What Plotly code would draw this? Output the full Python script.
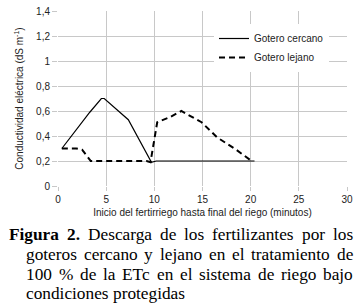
import plotly.graph_objects as go

near_x = [0.4, 3.3, 4.5, 4.8, 7.3, 9.7, 10.2, 20.4]
near_y = [0.30, 0.59, 0.70, 0.70, 0.53, 0.19, 0.20, 0.20]
far_x = [0.4, 1.9, 2.5, 3.4, 9.2, 9.6, 10.3, 11.6, 12.8, 14.9, 16.5, 18.5, 20.1]
far_y = [0.30, 0.30, 0.29, 0.20, 0.20, 0.19, 0.51, 0.55, 0.60, 0.51, 0.39, 0.29, 0.20]

x_ticks = [0, 5, 10, 15, 20, 25, 30]
y_ticks = [0, 0.2, 0.4, 0.6, 0.8, 1, 1.2, 1.4]

caption_lines = [
    "Figura 2. Descarga de los fertilizantes por los",
    "goteros cercano y lejano en el tratamiento de",
    "100 % de la ETc en el sistema de riego bajo",
    "condiciones protegidas",
]
bold_words = {"Figura", "2."}

W, H = 356, 305
ML, MR, MT, MB = 58, 9, 11, 119
PW, PH = W - ML - MR, H - MT - MB

# Times / Liberation Serif advance widths (1/1000 em) for justification
REG = dict(a=444, b=500, c=444, d=500, e=444, f=333, g=500, h=500, i=278, j=278, k=500,
           l=278, m=778, n=500, o=500, p=500, q=500, r=333, s=389, t=278, u=500, v=500,
           w=722, x=500, y=500, z=444, D=722, E=611, T=611, F=556)
REG.update({"0": 500, "1": 500, "2": 500, "%": 833, ".": 250, " ": 250})
BOLD = dict(F=611, i=278, g=500, u=556, r=444, a=500)
BOLD.update({"2": 500, ".": 250})
CAP_SIZE = 17.3


def word_w(w, bold):
    tbl = BOLD if bold else REG
    return sum(tbl.get(ch, 500) for ch in w) / 1000 * CAP_SIZE


fig = go.Figure()
fig.add_trace(go.Scatter(x=near_x, y=near_y, mode="lines", name="Gotero cercano",
                         line=dict(color="black", width=1.2)))
fig.add_trace(go.Scatter(x=far_x, y=far_y, mode="lines", name="Gotero lejano",
                         line=dict(color="black", width=2, dash="6px,4px")))

grid = "#c8c8c8"
axfont = dict(family="Liberation Sans, Arial", size=10, color="#222")
fig.update_layout(
    width=W, height=H,
    margin=dict(l=ML, r=MR, t=MT, b=MB, autoexpand=False),
    paper_bgcolor="white", plot_bgcolor="white",
    separators=",.",
    showlegend=True,
    legend=dict(x=(214 - ML) / PW, y=(MT + PH - 24) / PH, xanchor="left", yanchor="top",
                bgcolor="white", borderwidth=0,
                font=dict(family="Liberation Sans, Arial", size=10, color="#222"),
                tracegroupgap=0, itemwidth=30),
    xaxis=dict(range=[0, 30], tickvals=x_ticks, showgrid=True, gridcolor=grid, gridwidth=1,
               zeroline=False, showline=False, ticks="outside", ticklen=4, tickcolor=grid,
               tickfont=axfont, fixedrange=True,
               title=dict(text="Inicio del fertirriego hasta final del riego (minutos)",
                          font=axfont, standoff=4)),
    yaxis=dict(range=[0, 1.4], tickvals=y_ticks, showgrid=True, gridcolor=grid, gridwidth=1,
               zeroline=False, showline=False, ticks="outside", ticklen=5, tickcolor=grid,
               tickfont=axfont, fixedrange=True,
               title=dict(text="Conductividad eléctrica (dS m<sup>-1</sup>)",
                          font=axfont, standoff=10)),
)

cap_font = dict(family="Liberation Serif, Times New Roman", size=CAP_SIZE, color="#000")
line_left = [8, 25, 25, 25]
line_right = 352
line_y = [234, 254, 274, 293]
justify = [True, True, True, False]
for txt, x0, yy, jus in zip(caption_lines, line_left, line_y, justify):
    words = txt.split(" ")
    widths = [word_w(w, w in bold_words) for w in words]
    if jus and len(words) > 1:
        gap = (line_right - x0 - sum(widths)) / (len(words) - 1)
    else:
        gap = 250 / 1000 * CAP_SIZE
    xx = x0
    for w, wd in zip(words, widths):
        label = f"<b>{w}</b>" if w in bold_words else w
        fig.add_annotation(text=label, xref="paper", yref="paper",
                           x=(xx - ML) / PW, y=(MT + PH - yy) / PH,
                           xanchor="left", yanchor="middle", showarrow=False,
                           borderpad=0, font=cap_font)
        xx += wd + gap

fig.write_html("out.html", config={"displayModeBar": False},
               post_script="document.body.style.margin='0';")
